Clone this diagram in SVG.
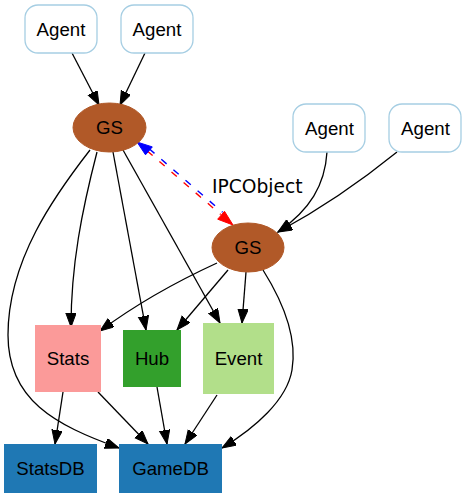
<svg xmlns="http://www.w3.org/2000/svg" width="467" height="499" viewBox="0 0 467 499">
<style>
.lbl{font-family:"Liberation Sans",Arial,sans-serif;font-size:18.67px;text-anchor:middle;fill:#000}
.elbl{font-family:"DejaVu Sans",sans-serif;font-size:18.67px;fill:#000}
.agent{fill:#fff;stroke:#a6cee3;stroke-width:1.3}
.gs{fill:#b15928;stroke:#b15928}
.edge{fill:none;stroke:#000;stroke-width:1.3;marker-end:url(#arr)}
.ipc{fill:none;stroke-width:1.4;stroke-dasharray:7,9}
</style>
<defs>
<marker id="arr" markerUnits="userSpaceOnUse" markerWidth="16" markerHeight="12" refX="14" refY="5.2" orient="auto" viewBox="0 0 16 12">
<path d="M0,0 L14,5.2 L0,10.4 z" fill="#000" stroke="#000" stroke-width="1"/>
</marker>
</defs>
<rect width="467" height="499" fill="#fff"/>
<g id="edges">
<path class="edge" d="M72,53 L99,105"/>
<path class="edge" d="M145,53 L120,105"/>
<path class="edge" d="M327,152 C325,185 310,210 278,232"/>
<path class="edge" d="M397,152 C360,182 315,212 278,232"/>
<path class="edge" d="M97,152 C82,210 71,265 71,327"/>
<path class="edge" d="M113,152 L146,330"/>
<path class="edge" d="M123,150 L220,323"/>
<path class="edge" d="M90,150 C55,195 8,260 8,335 C8,400 55,425 119,448"/>
<path class="edge" d="M217,263 C180,280 135,305 100,331"/>
<path class="edge" d="M228,270 L177,330"/>
<path class="edge" d="M246,272 L242,323"/>
<path class="edge" d="M263,270 C285,305 297,340 292,370 C287,400 255,428 222,448"/>
<path class="edge" d="M63,392 L55,444"/>
<path class="edge" d="M98,392 L148,444"/>
<path class="edge" d="M157,387 L167,444"/>
<path class="edge" d="M217,395 L185,444"/>
<g id="ipc">
<path class="ipc" stroke="#0000ff" d="M149.2,148.8 L222.6,212.3"/>
<path class="ipc" stroke="#ff0000" d="M147.3,151.0 L220.7,214.5"/>
<polygon points="137,142 152.3,146.9 145.5,154.8" fill="#0000ff" stroke="#0000ff" stroke-width="1"/>
<polygon points="233,225 224.5,211.3 217.7,219.2" fill="#ff0000" stroke="#ff0000" stroke-width="1"/>
<text class="elbl" x="212" y="193">IPCObject</text>
</g>
</g>
<g id="agent1"><rect class="agent" x="25" y="5" width="72" height="48" rx="13"/><text class="lbl" x="61" y="35.5">Agent</text></g>
<g id="agent2"><rect class="agent" x="121" y="5" width="72" height="48" rx="13"/><text class="lbl" x="157" y="35.5">Agent</text></g>
<g id="agent3"><rect class="agent" x="293" y="104" width="72" height="48" rx="13"/><text class="lbl" x="329.5" y="134.5">Agent</text></g>
<g id="agent4"><rect class="agent" x="389" y="104" width="72" height="48" rx="13"/><text class="lbl" x="425.5" y="134.5">Agent</text></g>
<g id="gs1"><ellipse class="gs" cx="109.5" cy="127.5" rx="36.5" ry="24.5"/><text class="lbl" x="109.5" y="134">GS</text></g>
<g id="gs2"><ellipse class="gs" cx="248" cy="247.5" rx="36" ry="24.5"/><text class="lbl" x="248" y="254">GS</text></g>
<g id="stats"><rect x="35" y="325" width="66" height="67" fill="#fb9a99"/><text class="lbl" x="68" y="365">Stats</text></g>
<g id="hub"><rect x="123" y="330" width="58" height="57" fill="#33a02c"/><text class="lbl" x="152" y="365">Hub</text></g>
<g id="event"><rect x="203" y="323" width="71" height="71" fill="#b2df8a"/><text class="lbl" x="238.5" y="365">Event</text></g>
<g id="statsdb"><rect x="4" y="444" width="93" height="49" fill="#1f78b4"/><text class="lbl" x="50.5" y="475">StatsDB</text></g>
<g id="gamedb"><rect x="119" y="444" width="103" height="49" fill="#1f78b4"/><text class="lbl" x="170.5" y="475">GameDB</text></g>
</svg>
